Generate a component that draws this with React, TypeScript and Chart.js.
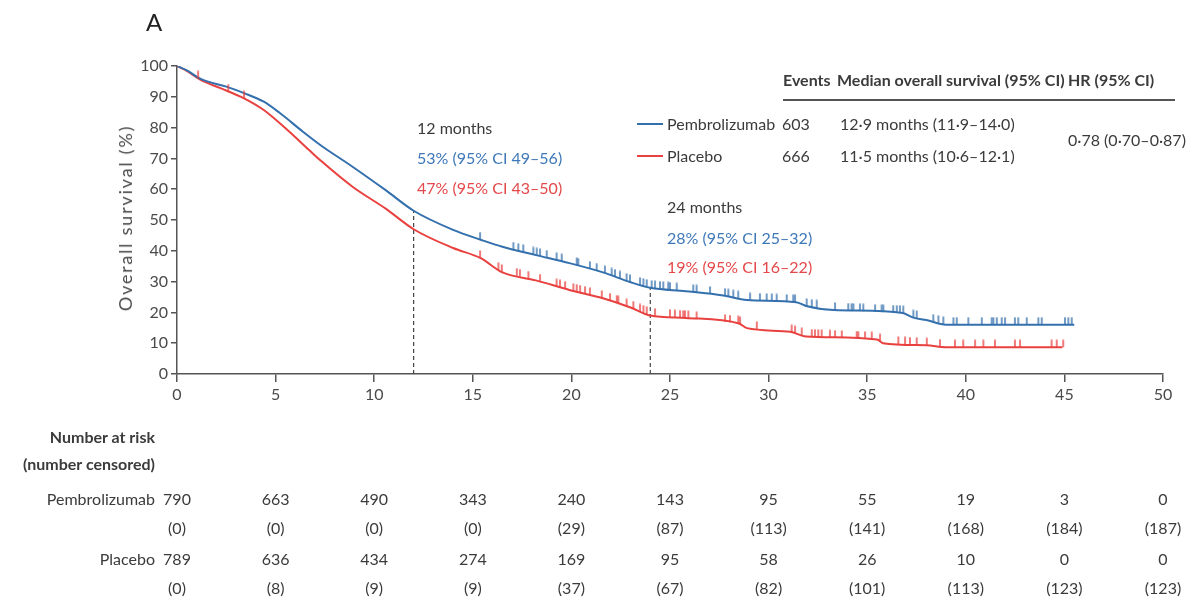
import React, { useEffect, useRef, useState } from 'react';
import Chart from 'chart.js/auto';

// Kaplan–Meier overall survival, pembrolizumab vs placebo
const MONTHS_PEMBRO = [0, 0.5, 1.2, 2.5, 3.4, 4.4, 5.2, 6.4, 7.3, 8.9, 10.6, 12, 14, 15.4, 16.5, 18.2, 19.9, 21.6, 23.0, 24, 25.8, 27.7, 28.9, 31.4, 31.9, 33.3, 36.8, 37.3, 38.0, 39.0, 45.5];
const SURV_PEMBRO = [100, 98.6, 95.8, 93.3, 91.2, 88.4, 84.8, 78.6, 74.2, 67.3, 59.6, 53, 46.8, 43.6, 41.3, 38.6, 36.0, 33.0, 29.8, 28, 26.9, 25.5, 24.0, 23.3, 22.1, 20.8, 19.8, 18.4, 17.5, 16.0, 16.0];

const MONTHS_PLACEBO = [0, 0.5, 1.2, 2.2, 3.4, 4.4, 5.6, 6.7, 7.3, 8.9, 10.6, 12, 14, 15.4, 16.5, 18.2, 19.9, 21.6, 23.0, 24, 25.8, 28.5, 28.9, 31.1, 31.9, 35.5, 35.8, 38.0, 39.0, 44.9];
const SURV_PLACEBO = [100, 98.4, 95.5, 92.8, 89.5, 85.7, 79.2, 72.7, 69.2, 60.8, 53.6, 47, 40.9, 37.6, 33.0, 30.4, 27.3, 24.6, 21.6, 19, 18.2, 16.4, 14.9, 13.7, 12.2, 11.2, 10.0, 9.3, 8.7, 8.7];

// Censoring times (months)
const CENSOR_PEMBRO = [15.37, 17.06, 17.31, 17.56, 18.07, 18.24, 18.41, 18.75, 19.25, 19.51, 20.27, 20.35, 20.94, 21.28, 21.7, 22.04, 22.21, 22.46, 22.8, 22.97, 23.48, 23.65, 23.82, 24.07, 24.24, 24.49, 24.66, 24.91, 25.0, 25.34,
  26.18, 26.35, 27.03, 27.79, 27.96, 28.21, 28.46, 29.06, 29.56, 29.9, 30.16, 30.41, 30.92, 31.25, 31.34, 31.93, 32.19, 32.44, 33.37, 34.04, 34.21, 34.3, 34.63, 34.8, 35.4, 35.73, 35.82, 36.32, 36.5, 36.66, 36.83, 37.34, 37.51, 38.35, 38.61,
  38.86, 39.37, 39.54, 40.13, 40.81, 41.31, 41.4, 41.57, 41.82, 41.99, 42.49, 42.66, 43.09, 43.68, 43.85, 45.03, 45.2, 45.37];
const CENSOR_PLACEBO = [0.05, 1.07, 2.6, 3.4, 15.37, 16.3, 16.47, 17.23, 17.39, 17.82, 18.41, 19.25, 19.42, 19.68, 20.1, 20.27, 20.44, 20.69, 20.94, 21.54, 21.96, 22.3, 22.38, 22.8, 23.14, 23.48, 23.65, 23.82, 24.24, 25.0, 25.25, 25.51, 25.67,
  25.76, 25.93, 26.35, 27.79, 28.04, 28.46, 28.55, 29.4, 31.17, 31.34, 31.68, 32.19, 32.35, 32.52, 32.69, 33.11, 33.37, 33.71, 34.47, 34.55, 34.89, 35.23, 35.65, 36.58, 36.92, 37.17, 37.51, 38.02,
  38.69, 39.45, 39.87, 40.47, 40.89, 41.48, 42.49, 42.75, 44.35, 44.61, 44.94];

// Landmark timepoints with reported survival
const LANDMARK_MONTHS = [12, 24];
const LANDMARK_PEMBRO = [53, 28];

const X_TICKS = [0, 5, 10, 15, 20, 25, 30, 35, 40, 45, 50];
const AT_RISK_PEMBRO = [790, 663, 490, 343, 240, 143, 95, 55, 19, 3, 0];
const CENSORED_PEMBRO = [0, 0, 0, 0, 29, 87, 113, 141, 168, 184, 187];
const AT_RISK_PLACEBO = [789, 636, 434, 274, 169, 95, 58, 26, 10, 0, 0];
const CENSORED_PLACEBO = [0, 8, 9, 9, 37, 67, 82, 101, 113, 123, 123];

const BLUE = '#3470ad';
const RED = '#e8413f';
const BLUE_TEXT = '#3f78b8';
const RED_TEXT = '#e4484a';
const INK = '#3b3b3b';
const AXIS = '#555555';
const FONT = "Lato, 'Open Sans', sans-serif";

function survivalAt(times: number[], surv: number[], t: number): number {
  for (let i = 0; i < times.length - 1; i++) {
    if (t <= times[i + 1]) {
      const f = (t - times[i]) / (times[i + 1] - times[i]);
      return surv[i] + (surv[i + 1] - surv[i]) * f;
    }
  }
  return surv[surv.length - 1];
}

function censorTick(color: string): HTMLCanvasElement {
  const c = document.createElement('canvas');
  c.width = 4;
  c.height = 16;
  const ctx = c.getContext('2d')!;
  ctx.strokeStyle = color;
  ctx.lineWidth = 1.4;
  ctx.beginPath();
  ctx.moveTo(2, 0.5);
  ctx.lineTo(2, 8);
  ctx.stroke();
  return c;
}

type TxtProps = {
  x: number;
  y: number;
  align?: 'left' | 'right' | 'center';
  color?: string;
  size?: number;
  bold?: boolean;
  children: React.ReactNode;
};

function Txt({ x, y, align = 'left', color = INK, size = 16, bold = false, children }: TxtProps) {
  const tx = align === 'left' ? '0' : align === 'right' ? '-100%' : '-50%';
  return (
    <div
      style={{
        position: 'absolute',
        left: x,
        top: y,
        transform: `translate(${tx}, -50%)`,
        whiteSpace: 'nowrap',
        fontFamily: FONT,
        fontSize: size,
        lineHeight: 1.2,
        color,
        fontWeight: bold ? 700 : 400,
      }}
    >
      {children}
    </div>
  );
}

export default function App() {
  const canvasRef = useRef<HTMLCanvasElement | null>(null);
  const [cols, setCols] = useState<number[]>([]);

  useEffect(() => {
    const canvas = canvasRef.current;
    if (!canvas) return;

    const line = (times: number[], surv: number[]) => times.map((t, i) => ({ x: t, y: surv[i] }));
    const marks = (censor: number[], times: number[], surv: number[]) =>
      censor.map((t) => ({ x: t, y: survivalAt(times, surv, t) }));

    const axisGrid = (tickLength: number) => ({
      drawOnChartArea: false,
      drawTicks: true,
      tickLength,
      color: AXIS,
      lineWidth: 1.5,
    });

    const chart = new Chart(canvas, {
      type: 'line',
      data: {
        datasets: [
          {
            label: 'Pembrolizumab censored',
            data: marks(CENSOR_PEMBRO, MONTHS_PEMBRO, SURV_PEMBRO),
            showLine: false,
            pointStyle: censorTick(BLUE),
            pointRadius: 3,
            order: 0,
          },
          {
            label: 'Placebo censored',
            data: marks(CENSOR_PLACEBO, MONTHS_PLACEBO, SURV_PLACEBO),
            showLine: false,
            pointStyle: censorTick(RED),
            pointRadius: 3,
            order: 1,
          },
          {
            label: 'Pembrolizumab',
            data: line(MONTHS_PEMBRO, SURV_PEMBRO),
            borderColor: BLUE,
            borderWidth: 2,
            pointRadius: 0,
            cubicInterpolationMode: 'monotone',
            order: 2,
          },
          {
            label: 'Placebo',
            data: line(MONTHS_PLACEBO, SURV_PLACEBO),
            borderColor: RED,
            borderWidth: 2,
            pointRadius: 0,
            cubicInterpolationMode: 'monotone',
            order: 3,
          },
          ...LANDMARK_MONTHS.map((m, i) => ({
            label: `${m} months`,
            data: [
              { x: m, y: 0 },
              { x: m, y: LANDMARK_PEMBRO[i] },
            ],
            borderColor: '#444',
            borderWidth: 1.2,
            borderDash: [4, 3],
            pointRadius: 0,
            order: 4,
          })),
        ],
      },
      options: {
        animation: false,
        responsive: false,
        events: [],
        layout: { padding: { left: 110, right: 38, top: 66, bottom: 202 } },
        plugins: { legend: { display: false }, tooltip: { enabled: false } },
        scales: {
          x: {
            type: 'linear',
            min: 0,
            max: 50,
            afterFit: (s: any) => {
              s.height = 30;
            },
            ticks: { stepSize: 5, color: '#4a4a4a', padding: 3, font: { size: 16, family: FONT } },
            grid: axisGrid(8),
            border: { color: AXIS, width: 1.5 },
          },
          y: {
            min: 0,
            max: 100,
            afterFit: (s: any) => {
              s.width = 67;
            },
            ticks: { stepSize: 10, color: '#4a4a4a', padding: 3, font: { size: 16, family: FONT } },
            grid: axisGrid(6),
            border: { color: AXIS, width: 1.5 },
          },
        },
      },
    } as any);

    setCols(X_TICKS.map((t) => chart.scales.x.getPixelForValue(t)));

    return () => chart.destroy();
  }, []);

  return (
    <div style={{ position: 'absolute', left: 0, top: 0, width: 1201, height: 606, background: '#fff', overflow: 'hidden' }}>
      <canvas ref={canvasRef} width={1201} height={606} style={{ position: 'absolute', left: 0, top: 0 }} />

      <Txt x={146} y={22} size={24} color="#222">A</Txt>

      <div
        style={{
          position: 'absolute',
          left: 125,
          top: 218,
          transform: 'translate(-50%, -50%) rotate(-90deg)',
          whiteSpace: 'nowrap',
          fontFamily: FONT,
          fontSize: 18,
          letterSpacing: 1.8,
          color: '#4a4a4a',
        }}
      >
        Overall survival (%)
      </div>

      {/* Landmark annotations */}
      <Txt x={417} y={128}>12 months</Txt>
      <Txt x={417} y={158} color={BLUE_TEXT}>53% (95% CI 49–56)</Txt>
      <Txt x={417} y={188} color={RED_TEXT}>47% (95% CI 43–50)</Txt>
      <Txt x={667} y={207}>24 months</Txt>
      <Txt x={667} y={238} color={BLUE_TEXT}>28% (95% CI 25–32)</Txt>
      <Txt x={667} y={267} color={RED_TEXT}>19% (95% CI 16–22)</Txt>

      {/* Summary table with legend */}
      <Txt x={783} y={80} bold>Events</Txt>
      <Txt x={837} y={80} bold>Median overall survival (95% CI)</Txt>
      <Txt x={1068} y={80} bold>HR (95% CI)</Txt>
      <div style={{ position: 'absolute', left: 783, top: 99, width: 392, height: 2, background: '#555' }} />

      <div style={{ position: 'absolute', left: 637, top: 123, width: 26, height: 2, background: BLUE }} />
      <Txt x={667} y={124}>Pembrolizumab</Txt>
      <Txt x={782} y={124}>603</Txt>
      <Txt x={840} y={124}>12·9 months (11·9–14·0)</Txt>

      <div style={{ position: 'absolute', left: 637, top: 155, width: 26, height: 2, background: RED }} />
      <Txt x={667} y={156}>Placebo</Txt>
      <Txt x={782} y={156}>666</Txt>
      <Txt x={840} y={156}>11·5 months (10·6–12·1)</Txt>

      <Txt x={1068} y={140}>0·78 (0·70–0·87)</Txt>

      {/* Number at risk */}
      <Txt x={155} y={437} align="right" bold>Number at risk</Txt>
      <Txt x={155} y={464} align="right" bold>(number censored)</Txt>
      <Txt x={155} y={499} align="right">Pembrolizumab</Txt>
      <Txt x={155} y={559} align="right">Placebo</Txt>
      {cols.map((cx, i) => (
        <React.Fragment key={i}>
          <Txt x={cx} y={499} align="center">{AT_RISK_PEMBRO[i]}</Txt>
          <Txt x={cx} y={528} align="center">({CENSORED_PEMBRO[i]})</Txt>
          <Txt x={cx} y={559} align="center">{AT_RISK_PLACEBO[i]}</Txt>
          <Txt x={cx} y={588} align="center">({CENSORED_PLACEBO[i]})</Txt>
        </React.Fragment>
      ))}
    </div>
  );
}
